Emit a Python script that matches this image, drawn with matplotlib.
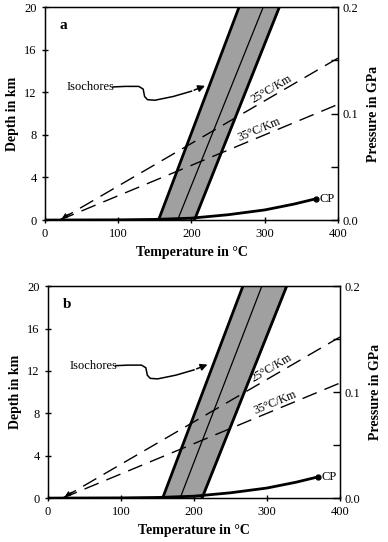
import numpy as np
import matplotlib.pyplot as plt

plt.rcParams['font.family'] = ['Liberation Serif', 'DejaVu Serif']

# Isochore band edges (temperature in C at depth 0 and 20 km) for panels a and b
iso_depth = [0, 20]
iso_a_left = [155, 265]
iso_a_mid = [181, 298]
iso_a_right = [204, 320]
iso_b_left = [157, 267]
iso_b_mid = [181, 293]
iso_b_right = [211, 327]

# liquid-vapour curve of water up to the critical point (depth-equivalent km)
lv_temp = [0, 100, 150, 200, 250, 300, 340, 370]
lv_depth = [0.0, 0.02, 0.06, 0.18, 0.5, 0.95, 1.5, 2.0]

# geotherms: surface temperature 20 C
geo_surface = 20
geo_grads = [25, 35]
geo_labels = ['25°C/Km', '35°C/Km']
geo_label_T = [[313, 295], [311, 315]]   # label positions for a, b

# wavy connector from the "Isochores" label to the band
conn_T = [93, 110, 128, 134, 136, 140, 150, 175, 200, 222]
conn_D = [12.5, 12.55, 12.55, 12.3, 11.6, 11.3, 11.25, 11.6, 12.1, 12.7]


def panel(ax, letter, left, mid, right, label_T):
    ax.fill_betweenx(iso_depth, left, right, color='#a0a0a0', zorder=1)
    ax.plot(left, iso_depth, color='black', lw=2, zorder=3)
    ax.plot(right, iso_depth, color='black', lw=2, zorder=3)
    ax.plot(mid, iso_depth, color='black', lw=0.9, zorder=3)

    T = np.array([geo_surface, 400])
    for g, lab, tx in zip(geo_grads, geo_labels, label_T):
        ax.plot(T, (T - geo_surface) / g, color='black', lw=1,
                dashes=(11, 6), zorder=2)
        ang = np.degrees(np.arctan((213 / 20) / (293 / 400) / g))
        ax.text(tx, (tx - geo_surface) / g + 0.1, lab, fontsize=8.5,
                rotation=ang, ha='center', va='bottom',
                rotation_mode='anchor')

    ax.plot(lv_temp, lv_depth, color='black', lw=2, zorder=4)
    ax.plot(lv_temp[-1], lv_depth[-1], 'o', color='black', ms=3.5, zorder=5)
    ax.text(lv_temp[-1] + 5, lv_depth[-1], 'CP', fontsize=9, va='center')

    ax.annotate('', xy=(geo_surface, 0.05), xytext=(36, 0.7),
                arrowprops=dict(arrowstyle='-|>', color='black', lw=0.8,
                                mutation_scale=7))

    ax.text(29, 12.5, 'Isochores', fontsize=9, va='center')
    ax.plot(conn_T[:-1], conn_D[:-1], color='black', lw=1.1)
    ax.annotate('', xy=(conn_T[-1], conn_D[-1]), xytext=(conn_T[-2], conn_D[-2]),
                arrowprops=dict(arrowstyle='-|>', color='black', lw=1.1,
                                mutation_scale=10))

    ax.text(20, 18.3, letter, fontsize=11, fontweight='bold', va='center')

    ax.set_xlim(0, 400)
    ax.set_ylim(0, 20)
    ax.set_xticks([0, 100, 200, 300, 400])
    ax.set_yticks([0, 4, 8, 12, 16, 20])
    ax.tick_params(axis='both', labelsize=9, direction='inout', length=5,
                   width=1, top=False, right=False)
    ax.set_xlabel('Temperature in °C', fontsize=10, fontweight='bold')
    ax.set_ylabel('Depth in km', fontsize=10, fontweight='bold', labelpad=4)
    for s in ax.spines.values():
        s.set_linewidth(1)

    ax2 = ax.twinx()
    ax2.set_ylim(0, 0.2)
    ax2.set_yticks([0.0, 0.1, 0.2])
    ax2.set_yticklabels(['0.0', '0.1', '0.2'])
    ax2.set_yticks([0.05, 0.15], minor=True)
    ax2.tick_params(axis='y', which='both', direction='in', length=5,
                    width=1, labelsize=9)
    ax2.set_ylabel('Pressure in GPa', fontsize=10, fontweight='bold',
                   labelpad=6)


fig = plt.figure(figsize=(3.88, 5.42), dpi=100)
ax_a = fig.add_axes([0.116, 0.594, 0.755, 0.393])
ax_b = fig.add_axes([0.124, 0.081, 0.752, 0.391])

panel(ax_a, 'a', iso_a_left, iso_a_mid, iso_a_right, geo_label_T[0])
panel(ax_b, 'b', iso_b_left, iso_b_mid, iso_b_right, geo_label_T[1])

fig.savefig('out.png', dpi=100)
